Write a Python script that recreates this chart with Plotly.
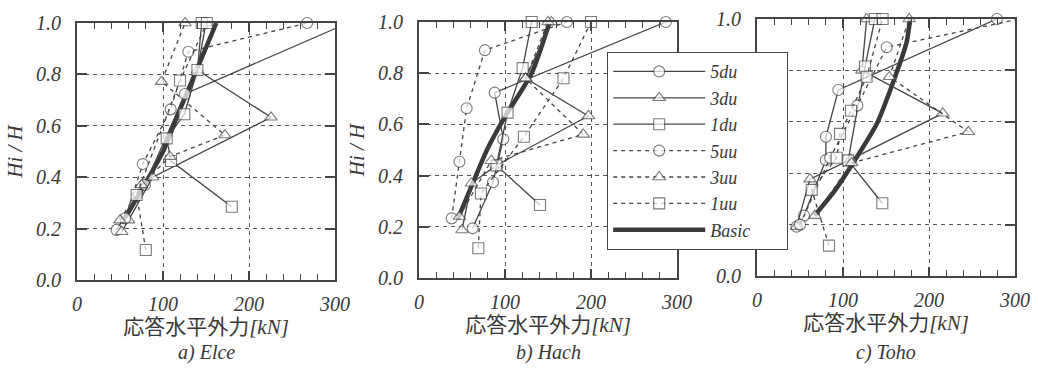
import plotly.graph_objects as go

# ---------------- data ----------------
SERIES_NAMES = ["5du", "3du", "1du", "5uu", "3uu", "1uu", "Basic"]
PANEL_TITLES = ["a) Elce", "b) Hach", "c) Toho"]
X_TICKS = [0, 100, 200, 300]
Y_TICKS = [0.0, 0.2, 0.4, 0.6, 0.8, 1.0]
X_TITLE = "応答水平外力<i>[kN]</i>"
Y_TITLE = "Hi / H"

# a) Elce
elce_5du_x = [46, 79, 125.6, 315]
elce_5du_y = [0.195, 0.37, 0.724, 1.0]
elce_3du_x = [52, 60, 88, 225.6, 140, 150]
elce_3du_y = [0.188, 0.233, 0.40, 0.633, 0.817, 1.0]
elce_1du_x = [180, 109.3, 104.3, 124.8, 140, 145]
elce_1du_y = [0.285, 0.463, 0.551, 0.645, 0.817, 1.0]
elce_5uu_x = [56, 76.4, 108.9, 129.5, 267.6]
elce_5uu_y = [0.24, 0.451, 0.664, 0.888, 1.0]
elce_3uu_x = [50, 75, 108, 172, 98.4, 125.6]
elce_3uu_y = [0.233, 0.37, 0.48, 0.564, 0.772, 1.0]
elce_1uu_x = [80, 69.4, 119.8, 151]
elce_1uu_y = [0.117, 0.331, 0.776, 1.0]
elce_basic_x = [52, 75, 100, 118, 137, 162]
elce_basic_y = [0.22, 0.35, 0.50, 0.65, 0.80, 1.0]

# b) Hach
hach_5du_x = [62.4, 86, 98, 88, 287]
hach_5du_y = [0.194, 0.374, 0.542, 0.724, 1.0]
hach_3du_x = [50, 61, 90, 197, 124, 154]
hach_3du_y = [0.1875, 0.37, 0.44, 0.633, 0.78, 1.0]
hach_1du_x = [140.7, 90, 103, 120.5, 131]
hach_1du_y = [0.285, 0.44, 0.646, 0.82, 1.0]
hach_5uu_x = [38, 47, 55.4, 76.7, 172]
hach_5uu_y = [0.233, 0.454, 0.663, 0.89, 1.0]
hach_3uu_x = [47, 84, 191, 124, 150]
hach_3uu_y = [0.24, 0.458, 0.561, 0.78, 1.0]
hach_1uu_x = [69, 72, 122, 168, 200]
hach_1uu_y = [0.116, 0.33, 0.552, 0.78, 1.0]
hach_basic_x = [45, 60, 79, 100, 131, 152]
hach_basic_y = [0.23, 0.35, 0.50, 0.63, 0.80, 1.0]

# c) Toho
toho_5du_x = [46, 54.7, 80, 80.2, 94.6, 279]
toho_5du_y = [0.192, 0.235, 0.451, 0.542, 0.724, 1.0]
toho_3du_x = [46, 61.6, 109, 216, 122, 127.5]
toho_3du_y = [0.192, 0.377, 0.454, 0.633, 0.80, 1.0]
toho_1du_x = [145.7, 106, 125.6, 137]
toho_1du_y = [0.283, 0.45, 0.815, 1.0]
toho_5uu_x = [50, 85, 116.7, 150.8, 305]
toho_5uu_y = [0.20, 0.46, 0.663, 0.89, 1.0]
toho_3uu_x = [67.4, 110, 245.7, 154, 177]
toho_3uu_y = [0.235, 0.44, 0.561, 0.775, 1.0]
toho_1uu_x = [83.7, 63.6, 92.6, 96.5, 109.3, 127.5, 146]
toho_1uu_y = [0.118, 0.335, 0.46, 0.553, 0.643, 0.775, 1.0]
toho_basic_x = [67, 90, 108, 139, 158.5, 174, 178]
toho_basic_y = [0.235, 0.33, 0.42, 0.59, 0.756, 0.91, 1.0]

panels = [
    [(elce_5du_x, elce_5du_y), (elce_3du_x, elce_3du_y), (elce_1du_x, elce_1du_y),
     (elce_5uu_x, elce_5uu_y), (elce_3uu_x, elce_3uu_y), (elce_1uu_x, elce_1uu_y),
     (elce_basic_x, elce_basic_y)],
    [(hach_5du_x, hach_5du_y), (hach_3du_x, hach_3du_y), (hach_1du_x, hach_1du_y),
     (hach_5uu_x, hach_5uu_y), (hach_3uu_x, hach_3uu_y), (hach_1uu_x, hach_1uu_y),
     (hach_basic_x, hach_basic_y)],
    [(toho_5du_x, toho_5du_y), (toho_3du_x, toho_3du_y), (toho_1du_x, toho_1du_y),
     (toho_5uu_x, toho_5uu_y), (toho_3uu_x, toho_3uu_y), (toho_1uu_x, toho_1uu_y),
     (toho_basic_x, toho_basic_y)],
]

# ---------------- styling ----------------
W, H = 1038, 368
INK = "#444444"
TXT = "#383838"
SERIF = "Liberation Serif, Times New Roman, serif"
CJK = "Liberation Serif, Noto Sans CJK JP, serif"
MS = 11

symbols = ["circle", "triangle-up", "square", "circle", "triangle-up", "square", None]
dashes = ["solid", "solid", "solid", "4px,4px", "4px,4px", "4px,4px", "solid"]
LEGEND_PANEL = 1  # panel whose traces feed the legend

# plot areas in pixels (left, right, top, bottom)
boxes = [(77, 335, 23, 280), (419, 677, 22, 278), (757, 1015, 19, 276)]

fig = go.Figure()

for p, series in enumerate(panels):
    xa = "x" if p == 0 else f"x{p+1}"
    ya = "y" if p == 0 else f"y{p+1}"
    order = [6, 0, 1, 2, 3, 4, 5]  # Basic first so markers sit on top of it
    for k in order:
        xs, ys = series[k]
        name = SERIES_NAMES[k]
        label = name + ("\u00a0" * 7 if k == 6 else "")
        if k == 6:
            fig.add_trace(go.Scatter(
                x=xs, y=ys, mode="lines", name=label, xaxis=xa, yaxis=ya,
                line=dict(color="#3a3a3a", width=4.5, shape="spline", smoothing=0.6),
                legendgroup=name, showlegend=(p == LEGEND_PANEL), legendrank=7,
                cliponaxis=True))
        else:
            sizes = [MS if (0 <= x <= 300) else 0 for x in xs]
            fig.add_trace(go.Scatter(
                x=xs, y=ys, mode="lines+markers", name=label, xaxis=xa, yaxis=ya,
                line=dict(color=INK, width=1.3, dash=dashes[k]),
                marker=dict(symbol=symbols[k], size=sizes, color="white",
                            line=dict(color=INK, width=1.1)),
                legendgroup=name, showlegend=(p == LEGEND_PANEL), legendrank=k + 1,
                cliponaxis=False))

layout = dict(
    width=W, height=H,
    margin=dict(l=0, r=0, t=0, b=0),
    paper_bgcolor="white", plot_bgcolor="white",
    showlegend=True,
    legend=dict(
        x=607 / W, y=1 - 52 / H, xanchor="left", yanchor="top",
        bgcolor="white", bordercolor=INK, borderwidth=1.2,
        font=dict(family=SERIF, size=18, color=TXT, style="italic"),
        itemwidth=92, itemsizing="trace", tracegroupgap=0,
        traceorder="normal",
    ),
    annotations=[],
)

for p, (l, r, t, b) in enumerate(boxes):
    xkey = "xaxis" if p == 0 else f"xaxis{p+1}"
    ykey = "yaxis" if p == 0 else f"yaxis{p+1}"
    xref = "x" if p == 0 else f"x{p+1}"
    yref = "y" if p == 0 else f"y{p+1}"
    # panel c: the legend box hides the middle tick labels and the title
    if p == 2:
        yticktext = [f"{v:.1f}" if v in (0.0, 1.0) else "" for v in Y_TICKS]
        ytitle = ""
    else:
        yticktext = [f"{v:.1f}" for v in Y_TICKS]
        ytitle = "<i>" + Y_TITLE + "</i>"
    layout[xkey] = dict(
        domain=[l / W, r / W], anchor=yref, range=[0, 300],
        tickvals=X_TICKS, ticks="inside", ticklen=9, tickwidth=1.5, tickcolor=INK,
        minor=dict(dtick=20, ticks="inside", ticklen=6, tickwidth=1.3, tickcolor=INK, showgrid=False),
        showline=True, linewidth=2, linecolor=INK, mirror="ticks",
        showgrid=True, gridcolor="#555555", gridwidth=1, griddash="4px,4px",
        zeroline=False, ticklabelstandoff=5,
        tickfont=dict(family=SERIF, size=20, color=TXT, style="italic"),
        title=dict(text=X_TITLE, standoff=0,
                   font=dict(family=CJK, size=21, color=TXT)),
        automargin=False,
    )
    layout[ykey] = dict(
        domain=[1 - b / H, 1 - t / H], anchor=xref, range=[0, 1.0],
        tickvals=Y_TICKS, ticktext=yticktext, ticks="inside", ticklen=10, tickwidth=2, tickcolor=INK,
        showline=True, linewidth=2, linecolor=INK, mirror="ticks",
        showgrid=True, gridcolor="#555555", gridwidth=1, griddash="4px,4px",
        zeroline=False, ticklabelstandoff=10,
        tickfont=dict(family=SERIF, size=20, color=TXT, style="italic"),
        title=dict(text=ytitle, standoff=8,
                   font=dict(family=SERIF, size=21, color=TXT)),
        automargin=False,
    )
    layout["annotations"].append(dict(
        text="<i>" + PANEL_TITLES[p] + "</i>", xref="paper", yref="paper",
        x=((l + r) / 2) / W, y=1 - 352 / H, xanchor="center", yanchor="middle",
        showarrow=False, font=dict(family=SERIF, size=20, color=TXT)))

fig.update_layout(**layout)
fig.write_html("out.html")
